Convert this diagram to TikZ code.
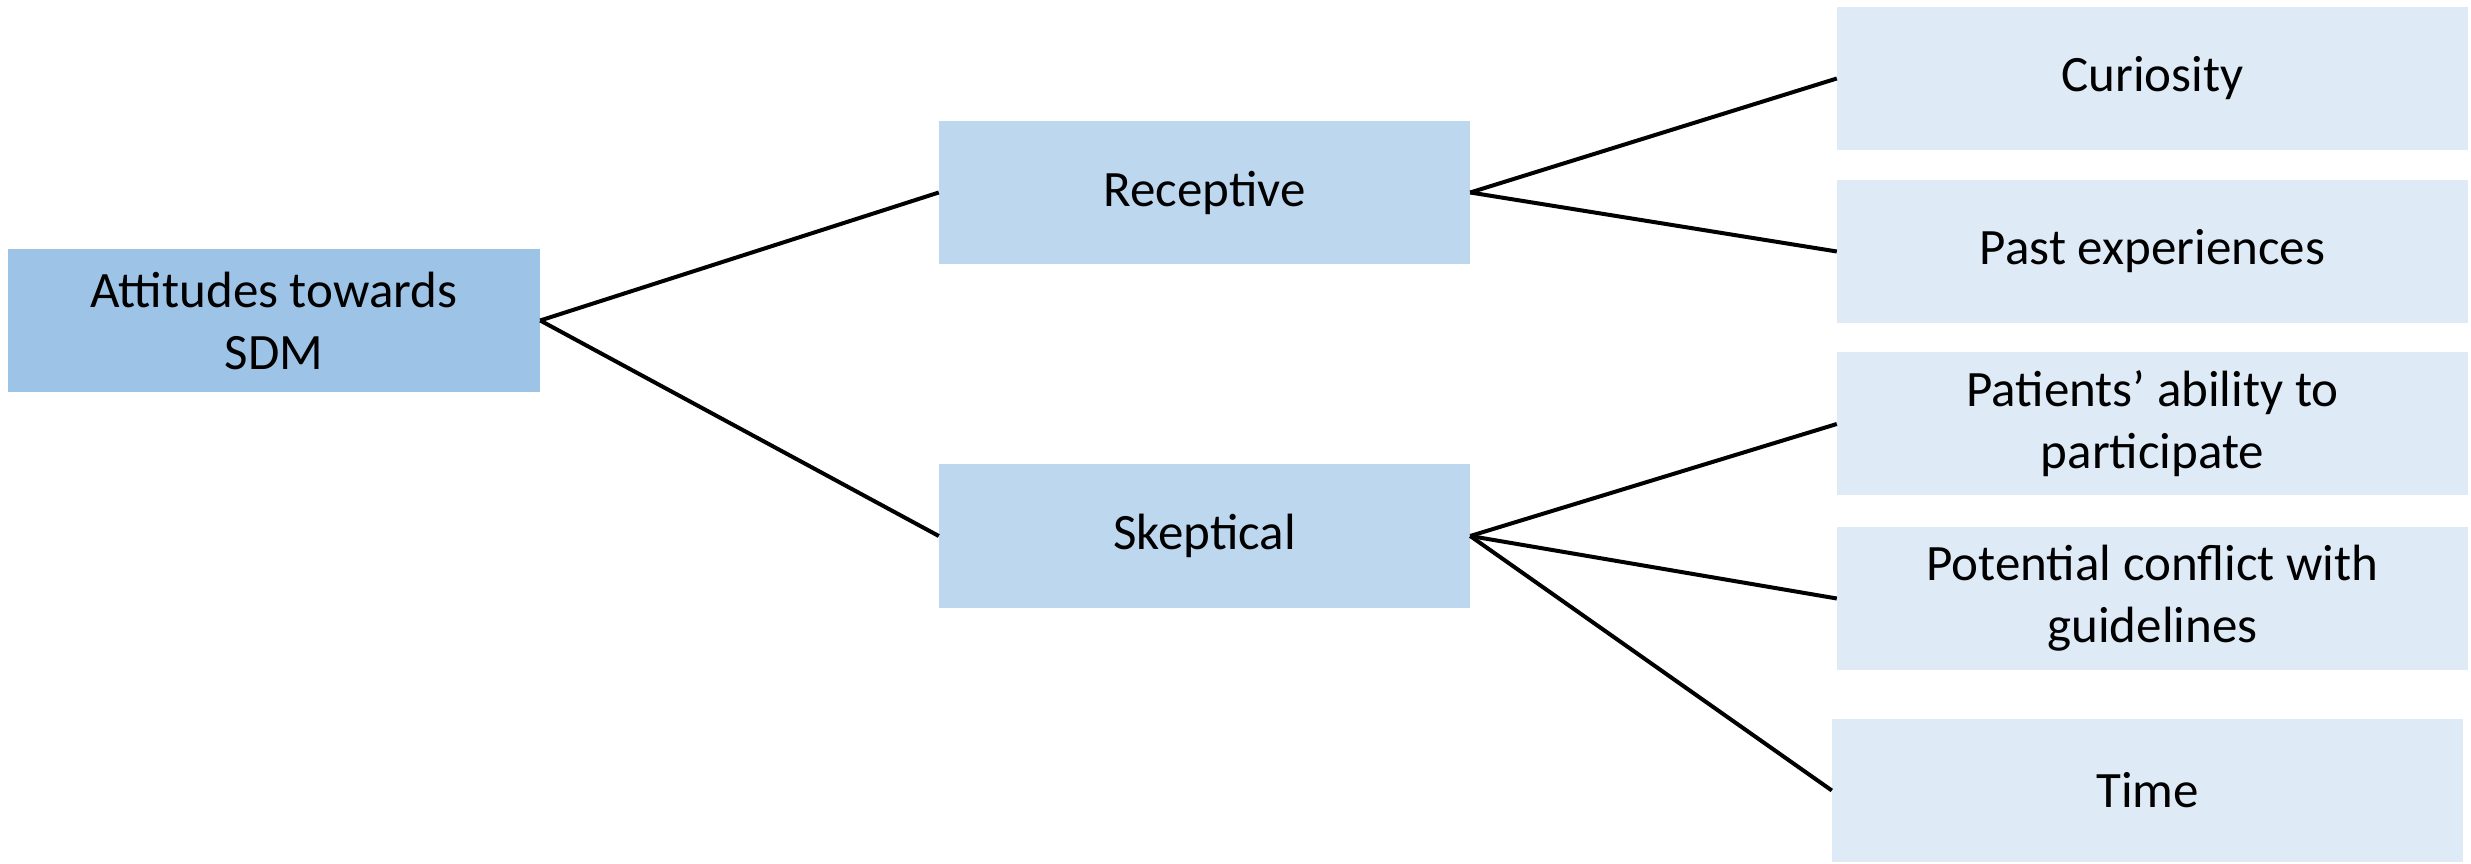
\documentclass[tikz,border=0pt]{standalone}
\usepackage{fontspec}
\setmainfont{Carlito}
\definecolor{rootblue}{HTML}{9DC3E6}
\definecolor{midblue}{HTML}{BDD7EE}
\definecolor{leafblue}{HTML}{DEEBF7}
\begin{document}
\begin{tikzpicture}[x=1pt,y=1pt,
  box/.style={rectangle, inner sep=0pt, align=center, text=black,
    font=\fontsize{51}{62}\selectfont, minimum height=143pt},
  rootbox/.style={box, fill=rootblue, minimum width=532pt},
  midbox/.style={box, fill=midblue, minimum width=531pt},
  leafbox/.style={box, fill=leafblue, minimum width=631pt},
  link/.style={draw=black, line width=4pt, line join=round}]
\useasboundingbox (0,0) rectangle (2471,863);

% root
\node[rootbox] (att) at (274,542.5) {Attitudes towards\\SDM};

% two attitudes
\node[midbox] (rec) at (1204.5,670.5) {Receptive};
\node[midbox] (ske) at (1204.5,327) {Skeptical};

% reasons
\node[leafbox] (cur)  at (2152.5,784.5) {Curiosity};
\node[leafbox] (past) at (2152.5,611.5) {Past experiences};
\node[leafbox] (pat)  at (2152.5,439) {Patients’ ability to\\participate};
\node[leafbox] (pot)  at (2152.5,264.5) {Potential conflict with\\guidelines};
\node[leafbox] (time) at (2147.5,72.5) {Time};

% connectors
\draw[link] (att.east) -- (rec.west);
\draw[link] (att.east) -- (ske.west);
\draw[link] (rec.east) -- (cur.west);
\draw[link] (rec.east) -- (past.west);
\draw[link] (ske.east) -- (pat.west);
\draw[link] (ske.east) -- (pot.west);
\draw[link] (ske.east) -- (time.west);
\end{tikzpicture}
\end{document}
